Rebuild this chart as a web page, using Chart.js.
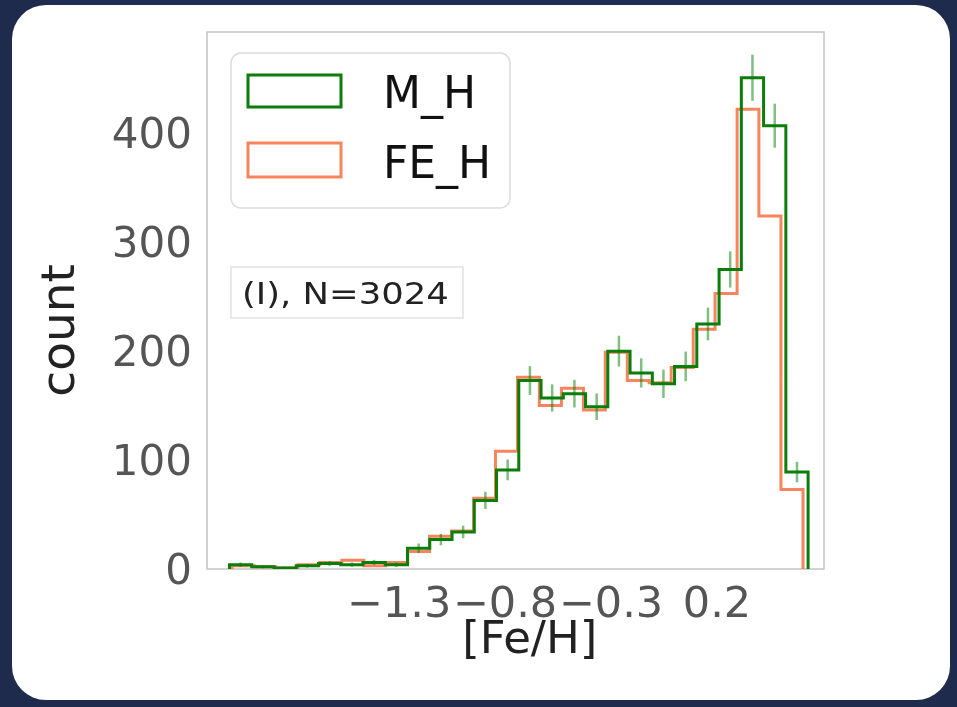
<!DOCTYPE html>
<html>
<head>
<meta charset="utf-8">
<title>[Fe/H] histogram</title>
<script src="https://cdn.jsdelivr.net/npm/chart.js@4.4.1/dist/chart.umd.min.js"></script>
<style>
  html, body { margin: 0; padding: 0; background: #1e2b4d; overflow: hidden; }
  #card { position: absolute; left: 12px; top: 5px; width: 938px; height: 695px; background: #fff; border-radius: 34px; }
  #wrap { position: absolute; left: 0; top: 0; width: 957px; height: 707px; }
</style>
</head>
<body>
<div id="card"></div>
<div id="wrap"><canvas id="histChart" width="957" height="707"></canvas></div>
<script>
// ---- data ----
const mhLabel = "M_H";
const feLabel = "FE_H";
const noteText = "(I), N=3024";

// bin edges ([Fe/H]) and counts per bin
const mhEdges = [-2.100, -1.995, -1.890, -1.785, -1.680, -1.575, -1.470, -1.365, -1.260,
  -1.155, -1.050, -0.945, -0.840, -0.735, -0.630, -0.525, -0.420, -0.315, -0.210,
  -0.105, 0.000, 0.105, 0.210, 0.315, 0.420, 0.525, 0.630];
const mhCounts = [4, 2, 1, 3, 5, 4, 6, 4, 19, 27, 34, 63, 91, 173, 157, 161, 149, 200,
  180, 170, 186, 225, 275, 451, 407, 89];
// half length of the error bars on M_H
const mhErrors = [2, 1.4, 1, 1.7, 2.2, 2, 2.4, 2, 4.4, 5.2, 5.8, 7.9, 9.5, 13.2, 12.5,
  12.7, 12.2, 14.1, 13.4, 13, 13.6, 15, 16.6, 21.2, 20.2, 9.4];

const feEdges = [-2.088, -1.984, -1.881, -1.777, -1.674, -1.570, -1.466, -1.363, -1.259,
  -1.156, -1.052, -0.948, -0.845, -0.741, -0.638, -0.534, -0.430, -0.327, -0.223,
  -0.120, -0.016, 0.088, 0.191, 0.295, 0.398, 0.502, 0.606];
const feCounts = [3, 2, 1, 4, 6, 8, 3, 6, 16, 30, 35, 65, 108, 176, 150, 166, 146, 199,
  173, 171, 185, 220, 253, 422, 324, 73];

const xTicks = [-1.3, -0.8, -0.3, 0.2];
const yTicks = [0, 100, 200, 300, 400];

const GREEN = "#0a7d0a";
const ORANGE = "rgba(245,120,75,0.9)";

Chart.defaults.font.family = "'DejaVu Sans', sans-serif";

// outline of a step histogram: up at the first edge, down at the last one
function stepPoints(edges, counts) {
  const pts = [{ x: edges[0], y: 0 }];
  counts.forEach((c, i) => pts.push({ x: edges[i], y: c }));
  pts.push({ x: edges[edges.length - 1], y: 0 });
  return pts;
}

const framePlugin = {
  id: "frame",
  beforeDatasetsDraw(chart) {
    const { ctx, chartArea: a } = chart;
    ctx.save();
    ctx.strokeStyle = "#c4c4c4";
    ctx.lineWidth = 1.5;
    ctx.strokeRect(a.left, a.top, a.right - a.left, a.bottom - a.top);
    ctx.restore();
  }
};

const errorBarPlugin = {
  id: "errorBars",
  afterDatasetsDraw(chart) {
    const { ctx, scales: { x, y } } = chart;
    ctx.save();
    ctx.strokeStyle = "rgba(0,128,0,0.5)";
    ctx.lineWidth = 2.5;
    mhCounts.forEach((c, i) => {
      const cx = x.getPixelForValue((mhEdges[i] + mhEdges[i + 1]) / 2);
      ctx.beginPath();
      ctx.moveTo(cx, y.getPixelForValue(c - mhErrors[i]));
      ctx.lineTo(cx, y.getPixelForValue(c + mhErrors[i]));
      ctx.stroke();
    });
    ctx.restore();
  }
};

function roundRect(ctx, x, y, w, h, r) {
  ctx.beginPath();
  ctx.moveTo(x + r, y);
  ctx.arcTo(x + w, y, x + w, y + h, r);
  ctx.arcTo(x + w, y + h, x, y + h, r);
  ctx.arcTo(x, y + h, x, y, r);
  ctx.arcTo(x, y, x + w, y, r);
  ctx.closePath();
}

// text a bit wider than the font, like the source picture
function wideText(ctx, text, x, y, sx) {
  ctx.save();
  ctx.translate(x, y);
  ctx.scale(sx, 1);
  ctx.fillText(text, 0, 0);
  ctx.restore();
}

// legend box and the text box, inside the plot
const insetPlugin = {
  id: "insets",
  afterDraw(chart) {
    const { ctx, chartArea: a } = chart;
    ctx.save();
    // legend frame
    const lx = a.left + 24, ly = a.top + 21;
    roundRect(ctx, lx, ly, 279, 155, 10);
    ctx.fillStyle = "rgba(255,255,255,0.85)";
    ctx.fill();
    ctx.strokeStyle = "#dcdcdc";
    ctx.lineWidth = 1.5;
    ctx.stroke();

    ctx.font = "44px 'DejaVu Sans'";
    ctx.textBaseline = "alphabetic";
    ctx.textAlign = "left";
    chart.data.datasets.forEach((ds, i) => {
      const bx = lx + 17, by = ly + 22 + i * 68;
      ctx.strokeStyle = ds.borderColor;
      ctx.lineWidth = 3;
      ctx.strokeRect(bx, by, 93, 32 + i * 2);
      ctx.fillStyle = "#111";
      ctx.fillText(ds.label, bx + 93 + 42, by + 33 + i * 2);
    });

    // annotation box
    const tx = a.left + 24, ty = a.top + 235;
    ctx.fillStyle = "#fff";
    ctx.fillRect(tx, ty, 232, 51);
    ctx.strokeStyle = "#dadada";
    ctx.lineWidth = 1.2;
    ctx.strokeRect(tx, ty, 232, 51);
    ctx.font = "30px 'DejaVu Sans'";
    ctx.fillStyle = "#222";
    wideText(ctx, noteText, tx + 11, ty + 37, 1.18);
    ctx.restore();
  }
};

new Chart(document.getElementById("histChart"), {
  type: "line",
  data: {
    datasets: [
      {
        label: mhLabel,
        data: stepPoints(mhEdges, mhCounts),
        borderColor: GREEN,
        borderWidth: 3,
        stepped: "before",
        pointRadius: 0,
        fill: false
      },
      {
        label: feLabel,
        data: stepPoints(feEdges, feCounts),
        borderColor: ORANGE,
        borderWidth: 3,
        stepped: "before",
        pointRadius: 0,
        fill: false
      }
    ]
  },
  options: {
    responsive: false,
    animation: false,
    devicePixelRatio: 1,
    layout: { autoPadding: false, padding: { left: 0, top: 32, right: 133, bottom: 0 } },
    plugins: {
      legend: { display: false },
      tooltip: { enabled: false }
    },
    scales: {
      x: {
        type: "linear",
        min: -2.206,
        max: 0.705,
        grid: { display: false, drawTicks: false },
        border: { display: false },
        afterBuildTicks: (axis) => { axis.ticks = xTicks.map(v => ({ value: v })); },
        ticks: {
          padding: 11,
          color: "#555",
          font: { size: 43 },
          maxRotation: 0,
          autoSkip: false,
          callback: (v) => String(v).replace("-", "\u2212")
        },
        title: {
          display: true,
          text: "  [Fe/H]",
          color: "#222",
          font: { size: 45 },
          padding: { top: 0, bottom: 39 }
        },
        afterFit: (axis) => {
          axis.height = 138;
          axis.paddingLeft = 0;
          axis.paddingRight = 0;
        }
      },
      y: {
        type: "linear",
        min: 0,
        max: 493,
        grid: { display: false, drawTicks: false },
        border: { display: false },
        afterBuildTicks: (axis) => { axis.ticks = yTicks.map(v => ({ value: v })); },
        ticks: { padding: 15, labelOffset: 4, color: "#555", font: { size: 42 } },
        title: {
          display: true,
          text: "count    ",
          color: "#222",
          font: { size: 47 },
          padding: { top: 34, bottom: 0 }
        },
        afterFit: (axis) => {
          axis.width = 207;
          axis.paddingTop = 0;
          axis.paddingBottom = 0;
        }
      }
    }
  },
  plugins: [framePlugin, errorBarPlugin, insetPlugin]
});
</script>
</body>
</html>
